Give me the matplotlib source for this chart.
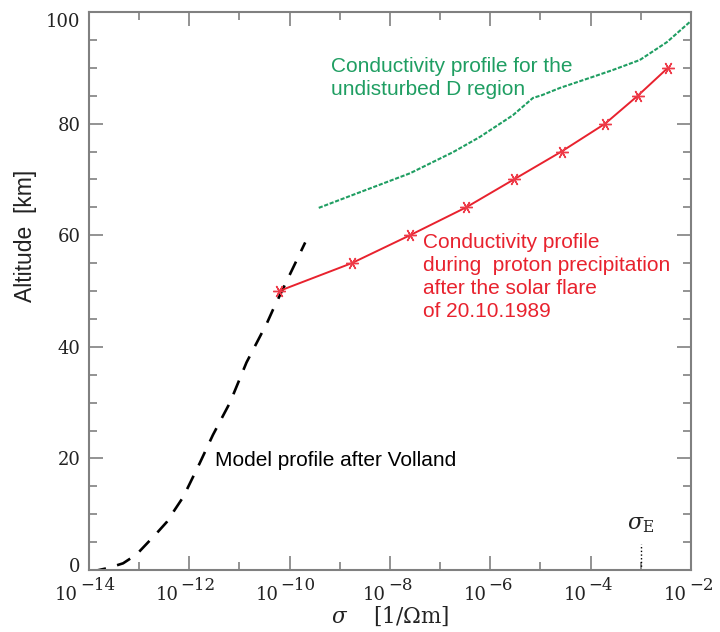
import matplotlib
matplotlib.use('Agg')
import matplotlib.pyplot as plt
import matplotlib.transforms as mtransforms
from matplotlib.ticker import FixedLocator, NullFormatter
import numpy as np

# red profile: proton precipitation after the flare (log10 sigma, altitude km)
red_log = [-10.21, -8.76, -7.60, -6.48, -5.53, -4.58, -3.71, -3.06, -2.46]
red_alt = [50, 55, 60, 65, 70, 75, 80, 85, 90]

# green profile: undisturbed D region
green_log = [-9.42, -8.60, -7.60, -6.74, -6.21, -5.55, -5.15, -4.97, -4.61,
             -3.95, -3.56, -3.02, -2.48, -2.00]
green_alt = [64.9, 67.7, 71.1, 74.9, 77.6, 81.5, 84.6, 85.1, 86.4,
             88.4, 89.6, 91.4, 94.6, 98.4]

# black dashed: model profile after Volland
model_log = [-13.95, -13.60, -13.32, -13.05, -12.85, -12.65, -12.45, -12.29,
             -12.12, -11.79, -11.53, -11.19, -10.86, -10.45, -10.33, -9.69]
model_alt = [-0.3, 0.4, 1.2, 2.8, 4.7, 6.6, 8.6, 10.8,
             13.1, 19.2, 24.2, 30.0, 37.2, 44.3, 46.7, 58.7]

sigma_e = 1e-3
sigma_e_alt = [0, 4.7]

major_exp = [-14, -12, -10, -8, -6, -4, -2]
minor_exp = [-13, -11, -9, -7, -5, -3]
y_major = [0, 20, 40, 60, 80, 100]
y_minor = [5, 10, 15, 25, 30, 35, 45, 50, 55, 65, 70, 75, 85, 90, 95]

green = '#1f9e62'
red = '#e8222e'
grey = '#808080'
sans = 'Liberation Sans'

plt.rcParams['font.family'] = 'DejaVu Serif'
plt.rcParams['mathtext.fontset'] = 'dejavuserif'

fig = plt.figure(figsize=(7.2, 6.32), dpi=100)
ax = fig.add_axes([0.1236, 0.0981, 0.8361, 0.8829])

ax.plot(10.0 ** np.array(model_log), model_alt, color='black', lw=1.9,
        dashes=(5.6, 4.4))
ax.plot(10.0 ** np.array(green_log), green_alt, color=green, lw=1.5,
        dashes=(2, 0.8))
ax.plot(10.0 ** np.array(red_log), red_alt, color=red, lw=1.4,
        marker=(6, 2, 90), markersize=9, markeredgewidth=1.0,
        markeredgecolor='#ee3a48')
ax.plot([sigma_e, sigma_e], sigma_e_alt, color='black', lw=1, ls=':')

ax.set_xscale('log')
ax.set_xlim(1e-14, 1e-2)
ax.set_ylim(0, 100)

ax.xaxis.set_major_locator(FixedLocator(10.0 ** np.array(major_exp)))
ax.xaxis.set_minor_locator(FixedLocator(10.0 ** np.array(minor_exp)))
ax.xaxis.set_major_formatter(NullFormatter())
ax.xaxis.set_minor_formatter(NullFormatter())
ax.yaxis.set_major_locator(FixedLocator(y_major))
ax.yaxis.set_minor_locator(FixedLocator(y_minor))

ax.tick_params(which='both', direction='in', top=True, right=True,
               color=grey, width=1.2)
ax.tick_params(which='major', length=10)
ax.tick_params(which='minor', length=6)
ax.tick_params(axis='y', labelsize=13, labelcolor='#222222', pad=6)
for s in ax.spines.values():
    s.set_color(grey)
    s.set_linewidth(1.5)

# IDL style tick labels: 10 with a big exponent
for e in major_exp:
    n = len(str(abs(e)))
    dx = -4 - 7 * (n - 1)
    ax.annotate('10', xy=(10.0 ** e, 0), xycoords=ax.get_xaxis_transform(),
                xytext=(dx, -30), textcoords='offset pixels',
                ha='right', va='baseline', fontsize=13, color='#222222')
    ax.annotate('\u2212' + str(abs(e)), xy=(10.0 ** e, 0),
                xycoords=ax.get_xaxis_transform(),
                xytext=(dx + 2, -20), textcoords='offset pixels',
                ha='left', va='baseline', fontsize=12, color='#222222')

# edge labels pushed inward like the original
labs = ax.get_yticklabels()
labs[0].set_transform(labs[0].get_transform() +
                      mtransforms.ScaledTranslation(0, 0.05, fig.dpi_scale_trans))
labs[-1].set_transform(labs[-1].get_transform() +
                       mtransforms.ScaledTranslation(0, -0.08, fig.dpi_scale_trans))

ax.set_xlabel('$\\sigma$    [1/\u03a9m]', fontsize=15.5, color='#222222')
ax.xaxis.set_label_coords(0.5, -0.062)
ax.set_ylabel('Altitude  [km]', fontsize=16.5, family=sans, color='#222222')
ax.yaxis.set_label_coords(-0.086, 0.599)

ax.text(10 ** -9.18, 92.0, 'Conductivity profile for the\nundisturbed D region',
        color=green, fontsize=15, family=sans, ha='left', va='top',
        linespacing=1.27)
ax.text(10 ** -7.34, 60.4,
        'Conductivity profile\nduring  proton precipitation\n'
        'after the solar flare\nof 20.10.1989',
        color=red, fontsize=15, family=sans, ha='left', va='top',
        linespacing=1.27)
ax.text(10 ** -11.49, 21.3, 'Model profile after Volland', color='black',
        fontsize=15, family=sans, ha='left', va='top')
ax.text(sigma_e, 7.2, '$\\sigma_{\\rm E}$', fontsize=16, ha='center',
        va='baseline', color='#222222')

fig.savefig('out.png', dpi=100)
